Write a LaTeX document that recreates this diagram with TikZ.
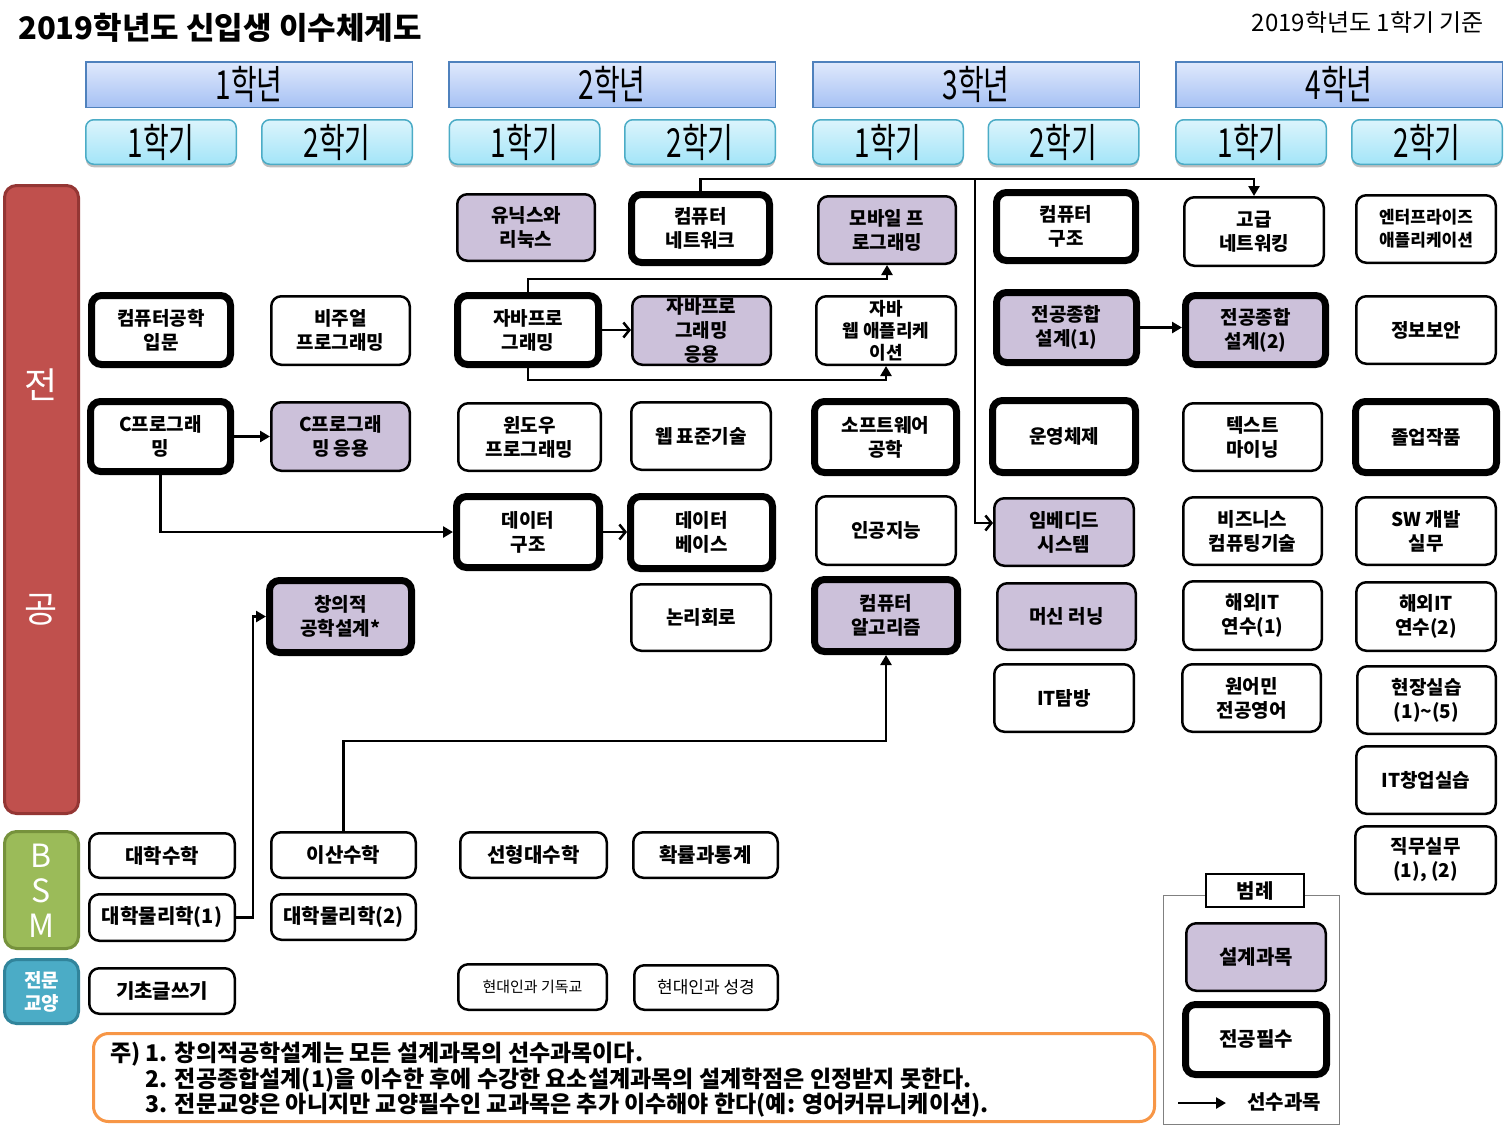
\documentclass[tikz,border=0pt]{standalone}
\usepackage{fontspec}
\usepackage{graphicx}
\setmainfont{Noto Sans CJK KR}
\usetikzlibrary{arrows.meta,shadows}

\definecolor{dsg}{HTML}{CCC1DA}
\definecolor{yrt}{HTML}{E0E9FC}
\definecolor{yrbt}{HTML}{A6C1F4}
\definecolor{yrb}{HTML}{4F81BD}
\definecolor{smt}{HTML}{DCF4FC}
\definecolor{smbt}{HTML}{A3E5F8}
\definecolor{smb}{HTML}{4BACC6}
\definecolor{redf}{HTML}{C0504D}
\definecolor{redb}{HTML}{943634}
\definecolor{grnf}{HTML}{9BBB59}
\definecolor{grnb}{HTML}{76923C}
\definecolor{tealf}{HTML}{4BACC6}
\definecolor{tealb}{HTML}{31849B}
\definecolor{orng}{HTML}{F79646}

\tikzset{
  crs/.style={draw=black, line width=2.5pt, rounded corners=10pt, fill=white, align=center,
              inner sep=0pt, font=\bfseries\fontsize{19}{24}\selectfont},
  reqd/.style={line width=7pt},
  dsgn/.style={fill=dsg},
  bsm/.style={font=\bfseries\fontsize{20}{24}\selectfont},
  yearbox/.style={draw=yrb, line width=1.5pt, top color=yrt, bottom color=yrbt,
              minimum height=45.5, inner sep=0pt, font=\fontsize{40}{40}\selectfont},
  sembox/.style={draw=smb, line width=1.5pt, rounded corners=8pt, top color=smt, bottom color=smbt,
              minimum width=150.5, minimum height=44.5, inner sep=0pt, font=\fontsize{40}{40}\selectfont,
              drop shadow={shadow xshift=0pt, shadow yshift=-3pt, opacity=0.25, fill=black}},
  conn/.style={line width=2.5pt, draw=black},
  tip/.style={-{Triangle[length=10pt,width=11pt]}},
  barb/.style={-{Straight Barb[length=6pt,width=15pt]}},
  cat/.style={line width=3pt, rounded corners=12pt, minimum width=74, inner sep=0pt},
}

\newcommand\cT[7]{\node[crs,#1,minimum width={#4-#2-2.5},minimum height={#5-#3-2.5}] (#6) at ({(#2+#4)/2},{-(#3+#5)/2}) {#7};}
\newcommand\cK[7]{\node[crs,reqd,#1,minimum width={#4-#2-7},minimum height={#5-#3-7}] (#6) at ({(#2+#4)/2},{-(#3+#5)/2}) {#7};}
\newcommand\hd[1]{\scalebox{0.7}[1]{#1}}

\begin{document}
\begin{tikzpicture}[x=1pt,y=1pt]
\useasboundingbox (0,0) rectangle (1511,-1128);
\fill[white] (0,0) rectangle (1511,-1128);

% titles
\node[anchor=west, inner sep=0pt, font=\bfseries\fontsize{31}{31}\selectfont] (title) at (18,-28) {2019학년도 신입생 이수체계도};
\node[anchor=east, inner sep=0pt, font=\fontsize{24}{24}\selectfont] (basis) at (1484,-22) {2019학년도 1학기 기준};

% years
\node[yearbox, minimum width=326.5] (y1) at (249,-84.5) {\hd{1학년}};
\node[yearbox, minimum width=326.5] (y2) at (612,-84.5) {\hd{2학년}};
\node[yearbox, minimum width=326.5] (y3) at (976,-84.5) {\hd{3학년}};
\node[yearbox, minimum width=326.5] (y4) at (1339,-84.5) {\hd{4학년}};
% semesters
\node[sembox] (s11) at (161,-142) {\hd{1학기}};
\node[sembox] (s12) at (337,-142) {\hd{2학기}};
\node[sembox] (s21) at (524.5,-142) {\hd{1학기}};
\node[sembox] (s22) at (700,-142) {\hd{2학기}};
\node[sembox] (s31) at (888,-142) {\hd{1학기}};
\node[sembox] (s32) at (1063.5,-142) {\hd{2학기}};
\node[sembox] (s41) at (1251,-142) {\hd{1학기}};
\node[sembox] (s42) at (1427,-142) {\hd{2학기}};

% category bars
\node[cat, draw=redb, fill=redf, minimum height=628] (maj) at (41.5,-499.5) {};
\node[text=white, font=\fontsize{36}{36}\selectfont] (majA) at (41,-385) {전};
\node[text=white, font=\fontsize{36}{36}\selectfont] (majB) at (41,-610) {공};
\node[cat, draw=grnb, fill=grnf, minimum height=117] (bsmc) at (41.5,-890) {};
\node[text=white, font=\fontsize{32}{32}\selectfont] (bB) at (41,-856) {B};
\node[text=white, font=\fontsize{32}{32}\selectfont] (bS) at (41,-891) {S};
\node[text=white, font=\fontsize{32}{32}\selectfont] (bM) at (41,-926) {M};
\node[cat, draw=tealb, fill=tealf, minimum height=64, text=white, align=center,
      font=\bfseries\fontsize{19}{23}\selectfont] (gen) at (41.5,-991.5) {전문\\교양};

% row A
\cT{dsgn}{456}{193}{596}{262}{unix}{유닉스와\\리눅스}
\cK{}{628}{191}{773}{266}{net}{컴퓨터\\네트워크}
\cT{dsgn}{817}{195}{957}{265}{mobile}{모바일 프\\로그래밍}
\cK{}{993}{189}{1139}{264}{arch}{컴퓨터\\구조}
\cT{}{1183}{196}{1325}{267}{advnet}{고급\\네트워킹}
\cT{font=\bfseries\fontsize{17}{23}\selectfont}{1355}{194}{1497}{264}{ent}{엔터프라이즈\\애플리케이션}
% row B
\cK{}{88}{292}{234}{368}{intro}{컴퓨터공학\\입문}
\cT{}{270}{295}{411}{366}{visual}{비주얼\\프로그래밍}
\cK{}{454}{292}{602}{368}{javap}{자바프로\\그래밍}
\cT{dsgn}{631}{295}{772}{366}{javaapp}{자바프로\\그래밍\\응용}
\cT{font=\bfseries\fontsize{18}{22}\selectfont}{815}{295}{957}{366}{javaweb}{자바\\웹 애플리케\\이션}
\cK{dsgn}{993}{289}{1140}{366}{cap1}{전공종합\\설계(1)}
\cK{dsgn}{1182}{292}{1329}{368}{cap2}{전공종합\\설계(2)}
\cT{}{1355}{295}{1497}{365}{sec}{정보보안}
% row C
\cK{}{87}{398}{234}{475}{cprog}{C프로그래\\밍}
\cT{dsgn}{270}{401}{411}{472}{capp}{C프로그래\\밍 응용}
\cT{}{457}{402}{602}{472}{win}{윈도우\\프로그래밍}
\cT{}{630}{401}{772}{471}{web}{웹 표준기술}
\cK{}{811}{398}{960}{476}{se}{소프트웨어\\공학}
\cK{}{989}{397}{1139}{476}{os}{운영체제}
\cT{}{1182}{402}{1323}{472}{tm}{텍스트\\마이닝}
\cK{}{1352}{398}{1500}{476}{grad}{졸업작품}
% row D
\cK{}{453}{493}{603}{571}{ds}{데이터\\구조}
\cK{}{627}{493}{776}{572}{db}{데이터\\베이스}
\cT{}{815}{495}{957}{566}{ai}{인공지능}
\cT{dsgn}{993}{497}{1135}{567}{emb}{임베디드\\시스템}
\cT{}{1182}{496}{1323}{566}{biz}{비즈니스\\컴퓨팅기술}
\cT{}{1355}{496}{1497}{566}{swdev}{SW 개발\\실무}
% row E
\cK{dsgn}{266}{577}{415}{656}{creat}{창의적\\공학설계*}
\cT{}{630}{583}{772}{652}{logic}{논리회로}
\cK{dsgn}{811}{576}{961}{655}{algo}{컴퓨터\\알고리즘}
\cT{dsgn}{996}{582}{1137}{651}{ml}{머신 러닝}
\cT{}{1182}{580}{1323}{651}{ovs1}{해외IT\\연수(1)}
\cT{}{1355}{581}{1497}{652}{ovs2}{해외IT\\연수(2)}
% row F-H
\cT{}{993}{663}{1135}{733}{itvisit}{IT탐방}
\cT{}{1181}{663}{1322}{733}{native}{원어민\\전공영어}
\cT{}{1356}{665}{1497}{735}{field}{현장실습\\(1)\textasciitilde(5)}
\cT{}{1355}{745}{1497}{815}{itstart}{IT창업실습}
\cT{}{1354}{825}{1497}{895}{job}{직무실무\\(1), (2)}

% BSM and general
\cT{bsm}{88}{832}{236}{879}{umath}{대학수학}
\cT{bsm}{270}{831}{417}{879}{dmath}{이산수학}
\cT{bsm}{459}{831}{608}{879}{linalg}{선형대수학}
\cT{bsm}{632}{831}{779}{879}{prob}{확률과통계}
\cT{bsm}{88}{893}{236}{942}{phys1}{대학물리학(1)}
\cT{bsm}{270}{893}{417}{941}{phys2}{대학물리학(2)}
\cT{bsm}{88}{967}{236}{1015}{writing}{기초글쓰기}
\cT{font=\fontsize{15}{18}\selectfont}{457}{963}{608}{1011}{christ}{현대인과 기독교}
\cT{font=\fontsize{17}{20}\selectfont}{633}{964}{779}{1011}{bible}{현대인과 성경}

% connectors
\coordinate (jn) at (975,-179);
\draw[conn,tip] (net.north) -- ++(0,12) -| (advnet.north);
\draw[conn,barb] (jn) |- ([yshift=9pt]emb.west);
\draw[conn,tip] (javap.north) -- ++(0,13) -| (mobile.south);
\draw[conn,barb] (javap.east) -- (javaapp.west |- javap.east);
\draw[conn,tip] (javap.south) -- ++(0,-12) -| (javaweb.south);
\draw[conn,tip] (cprog.east) -- (capp.west |- cprog.east);
\draw[conn,tip] (cprog.south) |- (ds.west);
\draw[conn,barb] (ds.east) -- (db.west |- ds.east);
\draw[conn,tip] (cap1.east) -- (cap2.west |- cap1.east);
\draw[conn,tip] (dmath.north) -- ++(0,90) -| (algo.south);
\draw[conn,tip] (phys1.east) -- ++(17,0) |- (creat.west);

% note
\node[draw=orng, line width=3pt, rounded corners=15pt, minimum width=1061, minimum height=88, inner sep=0pt] (note) at (624,-1077.5) {};
\node[anchor=north west, align=left, inner sep=0pt, font=\bfseries\fontsize{23}{23.5}\selectfont] (notetext) at (110,-1042)
 {주) 1. 창의적공학설계는 모든 설계과목의 선수과목이다.\\
  \phantom{주) }2. 전공종합설계(1)을 이수한 후에 수강한 요소설계과목의 설계학점은 인정받지 못한다.\\
  \phantom{주) }3. 전문교양은 아니지만 교양필수인 교과목은 추가 이수해야 한다(예: 영어커뮤니케이션).};

% legend
\node[draw=gray, line width=1pt, minimum width=176, minimum height=229, inner sep=0pt] (legend) at (1251.5,-1010) {};
\node[draw=black, fill=white, line width=2pt, minimum width=98, minimum height=33, inner sep=0pt,
      font=\bfseries\fontsize{20}{20}\selectfont] (legT) at (1255,-890.5) {범례};
\cT{font=\bfseries\fontsize{20}{24}\selectfont,dsgn}{1185}{922}{1327}{992}{legD}{설계과목}
\cK{font=\bfseries\fontsize{20}{24}\selectfont}{1182}{1001}{1330}{1078}{legR}{전공필수}
\coordinate (la) at (1178,-1103);
\coordinate (lb) at (1226,-1103);
\draw[conn,tip] (la) -- (lb);
\node[font=\bfseries\fontsize{20}{20}\selectfont, inner sep=0pt] (legA) at (1284,-1102) {선수과목};
\end{tikzpicture}
\end{document}
